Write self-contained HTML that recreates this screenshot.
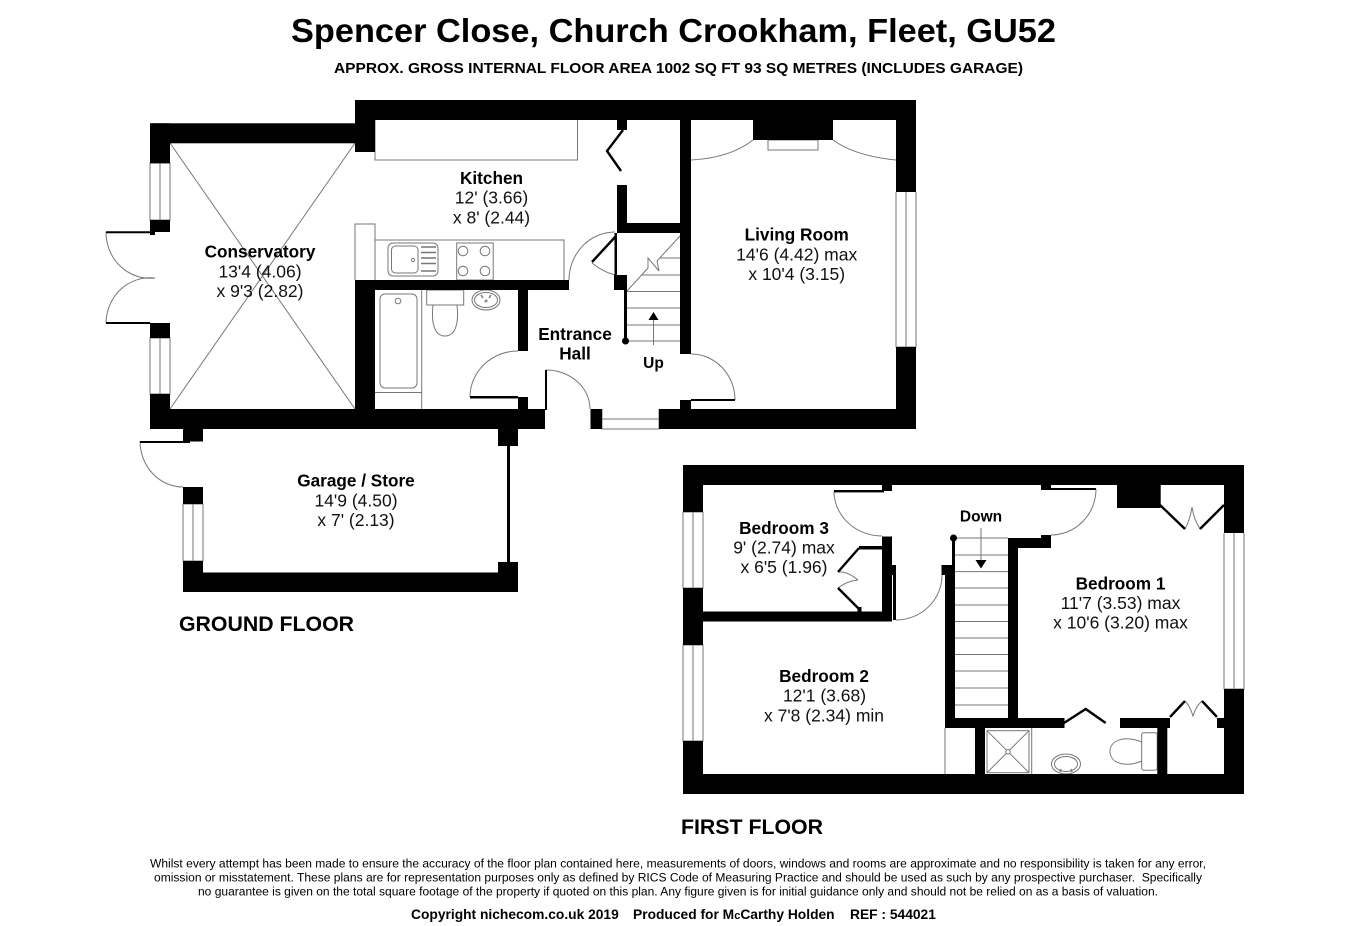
<!DOCTYPE html>
<html><head><meta charset="utf-8"><title>Spencer Close floor plan</title>
<style>
html,body{margin:0;padding:0;background:#fff;width:1350px;height:926px;overflow:hidden}
svg{display:block;position:absolute;left:0;top:0}
text{font-family:"Liberation Sans",sans-serif;fill:#000}
.m{text-anchor:middle}
.b{font-weight:bold;font-size:17.200px}
.r{font-size:17.500px;fill:#111}
.g{fill:none;stroke:#777;stroke-width:1}
.d{fill:none;stroke:#000;stroke-width:2.400}
</style></head><body>
<svg width="1350" height="926" viewBox="0 0 1350 926" xmlns="http://www.w3.org/2000/svg">
<rect width="1350" height="926" fill="#fff"/>

<text x="673.500" y="42" class="m" font-weight="bold" font-size="33" textLength="765" lengthAdjust="spacingAndGlyphs">Spencer Close, Church Crookham, Fleet, GU52</text>
<text x="678.500" y="73" class="m" font-weight="bold" font-size="15" textLength="689" lengthAdjust="spacingAndGlyphs">APPROX. GROSS INTERNAL FLOOR AREA 1002 SQ FT 93 SQ METRES (INCLUDES GARAGE)</text>

<!-- fine lines -->
<g class="g">
<path d="M170 143L355 409M355 143L170 409"/>
<path d="M375 120V160H577.500V120"/>
<path d="M355 280V224H375V280M375 240H564V280"/>
<rect x="388" y="243" width="50" height="33" rx="5"/>
<rect x="391.500" y="246" width="26.500" height="27" rx="4"/>
<circle cx="413" cy="260" r="1.600"/>
<rect x="456.700" y="243" width="36.500" height="37"/>
<circle cx="463" cy="251" r="4.800"/><circle cx="485" cy="251" r="4.800"/><circle cx="463" cy="271" r="4.800"/><circle cx="485" cy="271" r="4.800"/>
<path d="M421.700 290V409M375 392.500H421.700"/>
<rect x="380" y="294" width="37" height="94" rx="5"/>
<circle cx="398" cy="301" r="2.800"/>
<rect x="426.700" y="290" width="37" height="15"/>
<path d="M433 305C431 322 434 336 445 336C456 336 459 322 457 305"/>
<ellipse cx="486" cy="300" rx="14" ry="10"/><ellipse cx="486" cy="300" rx="11.500" ry="7.500"/>
<circle cx="486" cy="301" r="1"/>
<path d="M150 163H170V220H150ZM160 163V220M150 338H170V394H150ZM160 338V394"/>
<path d="M106 232A44 46 0 0 0 155 278M106 323A44 46 0 0 1 155 278"/>
<path d="M470 397A48 46 0 0 1 518 351M546 370A44 39 0 0 1 590 409M691 354A44 46 0 0 1 735 400M615 232A46 48 0 0 0 569 280"/>
<path d="M592 263Q603 272 615 275"/>
<path d="M691 160Q730 158 753 140M896 160Q855 156 833 140"/>
<rect x="768" y="140" width="50" height="10"/>
<path d="M627 341H680M627 325H680M627 308H680M627 291.500H680M642 275H680M660 258H680"/>
<path d="M627 291L648 268L648 258L659 271L657 261L680 236"/>
<path d="M602 409V429H659V409M602 419H659"/>
<path d="M896 192V347H916V192M906 192V347"/>
<path d="M653.500 320V345"/>
<path d="M140 441A43 46 0 0 0 183 487"/>
<path d="M183 504H203V561H183ZM193 504V561"/>
<path d="M683 512H703V588H683ZM693 512V588M683 645H703V741H683ZM693 645V741"/>
<path d="M834 491A48 45 0 0 0 882 536M896 620A46 45 0 0 0 942 575M1096 489A45 46 0 0 1 1051 535"/>
<path d="M955 555H1008M955 571.600H1008M955 588H1008M955 605H1008M955 621.500H1008M955 638H1008M955 654.500H1008M955 671H1008M955 688H1008M955 705H1008M955 538H1008"/>
<path d="M1224 533V689H1244V533M1234 533V689"/>
<path d="M945 728V774M1031.700 728V774"/>
<rect x="987" y="730.700" width="42" height="42"/>
<path d="M987 730.700L1029 772.700M1029 730.700L987 772.700"/>
<circle cx="1008" cy="751.700" r="2.200" fill="#fff"/>
<ellipse cx="1066" cy="764" rx="14.500" ry="10"/><ellipse cx="1066" cy="764" rx="11.500" ry="7.500"/>
<rect x="1141.700" y="732.700" width="15.500" height="37.500" rx="2"/>
<path d="M1142 742C1125 735 1110 740 1110 751.500C1110 763 1125 768 1142 761"/>
<path d="M858 580Q847 571 838 572M858 580Q847 581 838 588"/>
<path d="M1185 529Q1190 520 1192 507Q1194 520 1200 529"/>
<path d="M1185 701Q1190 706 1193 716Q1196 706 1202 701"/>
<path d="M981 528V560"/>
</g>

<!-- walls -->
<g fill="#000">
<rect x="355" y="100" width="561" height="20"/>
<rect x="150" y="123.300" width="205" height="20"/>
<rect x="355" y="100" width="20" height="52"/>
<rect x="150" y="123.300" width="20" height="40"/>
<path d="M150 220H170V232H155V235H150Z"/>
<path d="M150 323H170V338H150Z"/>
<rect x="150" y="394" width="20" height="35"/>
<rect x="150" y="409" width="395" height="20"/>
<rect x="355" y="280" width="20" height="129"/>
<rect x="355" y="280" width="214" height="10"/>
<rect x="518" y="290" width="10" height="61"/>
<rect x="518" y="397" width="10" height="12"/>
<rect x="590.500" y="409" width="11.500" height="20"/>
<rect x="659" y="409" width="257" height="20"/>
<rect x="896" y="100" width="20" height="92"/>
<rect x="896" y="347" width="20" height="82"/>
<rect x="680" y="120" width="11" height="234"/>
<rect x="680" y="400" width="11" height="10"/>
<rect x="753" y="120" width="80" height="20"/>
<rect x="617" y="120" width="10" height="10"/>
<rect x="617" y="185" width="10" height="48"/>
<rect x="627" y="223" width="53" height="10"/>
<rect x="614" y="275" width="13" height="15"/>
<rect x="624" y="290" width="3" height="50"/>
<circle cx="625.500" cy="341" r="3.500"/>
<rect x="614.500" y="233" width="2.500" height="42"/>
<rect x="545" y="370" width="2" height="40"/>
<path d="M106 231.300H150V233.300H106ZM106 322H150V324H106ZM470 396H518V398.500H470ZM691 399H735V401H691Z"/>
<path d="M653.500 312L648.500 320H658.500Z"/>
<rect x="183" y="429" width="20" height="12.500"/>
<rect x="140" y="441" width="50" height="2"/>
<rect x="183" y="487" width="20" height="17"/>
<rect x="183" y="561" width="20" height="31"/>
<rect x="183" y="572.500" width="335" height="19.500"/>
<rect x="498" y="429" width="20" height="17"/>
<rect x="498" y="562" width="20" height="30"/>
<rect x="507" y="446" width="3" height="116"/>
<rect x="683" y="465" width="561" height="20"/>
<rect x="683" y="465" width="20" height="47"/>
<rect x="683" y="588" width="20" height="57"/>
<rect x="683" y="741" width="20" height="53"/>
<rect x="683" y="774" width="561" height="20"/>
<rect x="703" y="611.500" width="189" height="10"/>
<rect x="882" y="536.500" width="10" height="85"/>
<rect x="882" y="485" width="10" height="6"/>
<rect x="834" y="490" width="50" height="2.400"/>
<rect x="859" y="546" width="23" height="3.500"/>
<rect x="857.500" y="607" width="4" height="5"/>
<rect x="892" y="565" width="4" height="10"/>
<rect x="893" y="575" width="3" height="45"/>
<rect x="941.500" y="565" width="13" height="10"/>
<rect x="945" y="565" width="10" height="163"/>
<rect x="952" y="538" width="3" height="28"/>
<circle cx="953.500" cy="538" r="3.500"/>
<rect x="1008" y="538" width="10" height="190"/>
<rect x="1008" y="538" width="43" height="10"/>
<rect x="1041" y="535" width="10" height="13"/>
<rect x="1041" y="485" width="10" height="5"/>
<rect x="1051" y="488" width="45" height="2"/>
<rect x="945" y="718" width="119.500" height="10"/>
<rect x="1120" y="718" width="50" height="10"/>
<rect x="1157.300" y="718" width="10" height="56"/>
<rect x="1217" y="718" width="7" height="10"/>
<rect x="975" y="728" width="10" height="46"/>
<rect x="1224" y="465" width="20" height="68"/>
<rect x="1224" y="689" width="20" height="105"/>
<rect x="1117" y="485" width="43.700" height="23"/>
<path d="M981 568.500L975.500 560H986.500Z"/>
</g>

<!-- thick door leaves -->
<g class="d">
<path d="M623 130L607 151L621 171"/>
<path d="M616 236L592 262"/>
<path d="M859 548L838 572M838 588L860 610"/>
<path d="M1064 723L1085.700 709L1105.700 723"/>
<path d="M1160 505L1185 529M1200 529L1224 505"/>
<path d="M1170 717L1185 701M1202 701L1217 717"/>
</g>

<!-- drainer lines and details -->
<g stroke="#777" stroke-width="1.400" fill="none">
<path d="M421 247H436M421 252.500H436M421 258H436M421 263.500H436M421 271H436"/>
<path d="M481 295L483 298M491 295L489 298M1060 772L1061 769M1072 772L1071 769"/>
</g>

<!-- labels -->
<text x="491.500" y="184" class="m b">Kitchen</text>
<text x="491.500" y="203.700" class="m r">12' (3.66)</text>
<text x="491.500" y="223.300" class="m r">x 8' (2.44)</text>
<text x="260" y="257.700" class="m b">Conservatory</text>
<text x="260" y="277.300" class="m r">13'4 (4.06)</text>
<text x="260" y="297" class="m r">x 9'3 (2.82)</text>
<text x="796.700" y="240.700" class="m b">Living Room</text>
<text x="796.700" y="260.300" class="m r">14'6 (4.42) max</text>
<text x="796.700" y="280" class="m r">x 10'4 (3.15)</text>
<text x="575" y="340" class="m b">Entrance</text>
<text x="575" y="359.500" class="m b">Hall</text>
<text x="653.500" y="368" class="m" font-weight="bold" font-size="15.500">Up</text>
<text x="356" y="486.700" class="m b">Garage / Store</text>
<text x="356" y="506.300" class="m r">14'9 (4.50)</text>
<text x="356" y="526" class="m r">x 7' (2.13)</text>
<text x="784" y="534" class="m b">Bedroom 3</text>
<text x="784" y="553.500" class="m r">9' (2.74) max</text>
<text x="784" y="573" class="m r">x 6'5 (1.96)</text>
<text x="824" y="682" class="m b">Bedroom 2</text>
<text x="824.500" y="701.500" class="m r">12'1 (3.68)</text>
<text x="824" y="721.300" class="m r">x 7'8 (2.34) min</text>
<text x="1120.500" y="589.300" class="m b">Bedroom 1</text>
<text x="1120.500" y="609" class="m r">11'7 (3.53) max</text>
<text x="1120.500" y="628.700" class="m r">x 10'6 (3.20) max</text>
<text x="981" y="521.700" class="m" font-weight="bold" font-size="15.500">Down</text>

<text x="179" y="631" font-weight="bold" font-size="21.700" textLength="175" lengthAdjust="spacingAndGlyphs">GROUND FLOOR</text>
<text x="681" y="834" font-weight="bold" font-size="21.700" textLength="142" lengthAdjust="spacingAndGlyphs">FIRST FLOOR</text>

<g font-size="12.100" fill="#111">
<text x="150" y="867.300" textLength="1056" lengthAdjust="spacingAndGlyphs">Whilst every attempt has been made to ensure the accuracy of the floor plan contained here, measurements of doors, windows and rooms are approximate and no responsibility is taken for any error,</text>
<text x="154" y="881.700" textLength="1048" lengthAdjust="spacingAndGlyphs" xml:space="preserve">omission or misstatement. These plans are for representation purposes only as defined by RICS Code of Measuring Practice and should be used as such by any prospective purchaser.  Specifically</text>
<text x="198" y="895.700" textLength="960" lengthAdjust="spacingAndGlyphs">no guarantee is given on the total square footage of the property if quoted on this plan. Any figure given is for initial guidance only and should not be relied on as a basis of valuation.</text>
</g>
<text x="411" y="919" font-weight="bold" font-size="13.800" xml:space="preserve">Copyright nichecom.co.uk 2019</text>
<text x="633" y="919" font-weight="bold" font-size="13.800">Produced for M<tspan font-size="11">c</tspan>Carthy Holden</text>
<text x="850" y="919" font-weight="bold" font-size="13.800">REF : 544021</text>
</svg>
</body></html>
